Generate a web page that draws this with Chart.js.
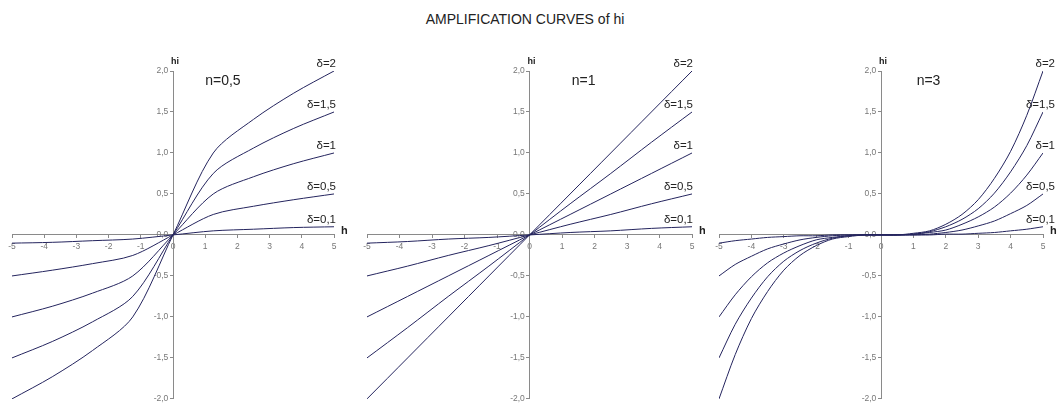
<!DOCTYPE html>
<html>
<head>
<meta charset="utf-8">
<script src="https://cdn.jsdelivr.net/npm/chart.js@4/dist/chart.umd.min.js"></script>
<style>
  body { margin: 0; background: #fff; }
  #wrap { position: relative; width: 1063px; height: 407px; overflow: hidden; }
  canvas { position: absolute; top: 0; }
  #title {
    position: absolute; top: 11px; left: 0; width: 1050px; text-align: center;
    font: 14px 'Liberation Sans', Arial, sans-serif; color: #222;
  }
</style>
</head>
<body>
<div id="wrap">
  <div id="title">AMPLIFICATION CURVES of hi</div>
  <canvas id="p1" width="350" height="407" style="left:0px"></canvas>
  <canvas id="p2" width="355" height="407" style="left:350px"></canvas>
  <canvas id="p3" width="358" height="407" style="left:705px"></canvas>
</div>
<script>
// δ values of the five curves, top to bottom
const deltas = [2, 1.5, 1, 0.5, 0.1];
const deltaLabels = ['δ=2', 'δ=1,5', 'δ=1', 'δ=0,5', 'δ=0,1'];
const panelTitles = ['n=0,5', 'n=1', 'n=3'];

// h points for n=0,5 and n=1
const hCoarse = [-5, -3.75, -2.5, -1.25, 0, 1.25, 2.5, 3.75, 5];
// h points for n=3
const hFine = [-5, -4.5, -4, -3.5, -3, -2.5, -2, -1.5, -1, -0.5, 0,
  0.5, 1, 1.5, 2, 2.5, 3, 3.5, 4, 4.5, 5];

// hi values, n=0,5
const half2 = [-2, -1.73, -1.41, -1, 0, 1, 1.41, 1.73, 2];
const half15 = [-1.5, -1.3, -1.06, -0.75, 0, 0.75, 1.06, 1.3, 1.5];
const half1 = [-1, -0.87, -0.71, -0.5, 0, 0.5, 0.71, 0.87, 1];
const half05 = [-0.5, -0.43, -0.35, -0.25, 0, 0.25, 0.35, 0.43, 0.5];
const half01 = [-0.1, -0.09, -0.07, -0.05, 0, 0.05, 0.07, 0.09, 0.1];

// hi values, n=1
const lin2 = [-2, -1.5, -1, -0.5, 0, 0.5, 1, 1.5, 2];
const lin15 = [-1.5, -1.13, -0.75, -0.38, 0, 0.38, 0.75, 1.13, 1.5];
const lin1 = [-1, -0.75, -0.5, -0.25, 0, 0.25, 0.5, 0.75, 1];
const lin05 = [-0.5, -0.38, -0.25, -0.13, 0, 0.13, 0.25, 0.38, 0.5];
const lin01 = [-0.1, -0.08, -0.05, -0.03, 0, 0.03, 0.05, 0.08, 0.1];

// hi values, n=3
const cub2 = [-2, -1.46, -1.02, -0.69, -0.43, -0.25, -0.13, -0.05, -0.02, 0, 0,
  0, 0.02, 0.05, 0.13, 0.25, 0.43, 0.69, 1.02, 1.46, 2];
const cub15 = [-1.5, -1.09, -0.77, -0.51, -0.32, -0.19, -0.1, -0.04, -0.01, 0, 0,
  0, 0.01, 0.04, 0.1, 0.19, 0.32, 0.51, 0.77, 1.09, 1.5];
const cub1 = [-1, -0.73, -0.51, -0.34, -0.22, -0.13, -0.06, -0.03, -0.01, 0, 0,
  0, 0.01, 0.03, 0.06, 0.13, 0.22, 0.34, 0.51, 0.73, 1];
const cub05 = [-0.5, -0.36, -0.26, -0.17, -0.11, -0.06, -0.03, -0.01, 0, 0, 0,
  0, 0, 0.01, 0.03, 0.06, 0.11, 0.17, 0.26, 0.36, 0.5];
const cub01 = [-0.1, -0.07, -0.05, -0.03, -0.02, -0.01, -0.01, 0, 0, 0, 0,
  0, 0, 0, 0.01, 0.01, 0.02, 0.03, 0.05, 0.07, 0.1];

const yTicks = [-2, -1.5, -1, -0.5, 0, 0.5, 1, 1.5, 2];

const panels = [
  { id: 'p1', h: hCoarse, series: [half2, half15, half1, half05, half01],
    pad: { left: 12, right: 16 }, labelShift: 2, nAt: 1 },
  { id: 'p2', h: hCoarse, series: [lin2, lin15, lin1, lin05, lin01],
    pad: { left: 17, right: 13 }, labelShift: 1, nAt: 1.3 },
  { id: 'p3', h: hFine, series: [cub2, cub15, cub1, cub05, cub01],
    pad: { left: 14, right: 20 }, labelShift: 12, nAt: 1.1 },
];

const lineColor = '#24245e';
const axisColor = '#8a8a8a';
const FONT = "'Liberation Sans', Arial, sans-serif";

const annotations = {
  id: 'annotations',
  afterDatasetsDraw(chart, args, opts) {
    const { ctx, scales: { x, y } } = chart;
    ctx.save();
    ctx.fillStyle = '#222';
    // axis names
    ctx.font = 'bold 9px ' + FONT;
    ctx.textAlign = 'center';
    ctx.textBaseline = 'bottom';
    ctx.fillText('hi', x.getPixelForValue(0) + 2, y.getPixelForValue(2) - 5);
    ctx.font = 'bold 11px ' + FONT;
    ctx.textAlign = 'left';
    ctx.textBaseline = 'middle';
    ctx.fillText('h', x.getPixelForValue(5) + 7, y.getPixelForValue(0) - 4);
    // panel name
    ctx.font = '14px ' + FONT;
    ctx.fillText(opts.title, x.getPixelForValue(opts.nAt), y.getPixelForValue(1.88));
    // curve names at the right end
    ctx.font = '11.5px ' + FONT;
    ctx.textAlign = 'right';
    ctx.textBaseline = 'bottom';
    deltas.forEach((d, i) => {
      ctx.fillText(deltaLabels[i], x.getPixelForValue(5) + opts.labelShift,
        y.getPixelForValue(d) - 1);
    });
    ctx.restore();
  },
};

panels.forEach((p, k) => {
  const datasets = p.series.map((vals, i) => ({
    label: deltaLabels[i],
    data: p.h.map((h, j) => ({ x: h, y: vals[j] })),
    showLine: true,
    borderColor: lineColor,
    borderWidth: 1,
    pointRadius: 0,
    tension: 0.3,
  }));

  new Chart(document.getElementById(p.id), {
    type: 'scatter',
    data: { datasets },
    options: {
      responsive: false,
      animation: false,
      layout: { padding: { top: 71, bottom: 2, left: p.pad.left, right: p.pad.right } },
      plugins: {
        legend: { display: false },
        tooltip: { enabled: false },
        annotations: { title: panelTitles[k], nAt: p.nAt, labelShift: p.labelShift },
      },
      scales: {
        x: {
          type: 'linear',
          position: { y: 0 },
          min: -5,
          max: 5,
          grid: { drawOnChartArea: false, drawTicks: true, tickLength: 3, color: axisColor },
          border: { display: true, color: axisColor, width: 1 },
          ticks: {
            stepSize: 1,
            padding: 4,
            color: '#777',
            font: { size: 8.5, family: FONT },
          },
        },
        y: {
          type: 'linear',
          position: { x: 0 },
          min: -2,
          max: 2,
          afterBuildTicks: (axis) => { axis.ticks = yTicks.map((v) => ({ value: v })); },
          grid: { drawOnChartArea: false, drawTicks: true, tickLength: 3, color: axisColor },
          border: { display: true, color: axisColor, width: 1 },
          ticks: {
            color: '#777',
            font: { size: 8.5, family: FONT },
            // trailing spaces keep the right-aligned label clear of the axis line
            callback: (v) => v.toFixed(1).replace('.', ',') + '  ',
          },
        },
      },
    },
    plugins: [annotations],
  });
});
</script>
</body>
</html>
